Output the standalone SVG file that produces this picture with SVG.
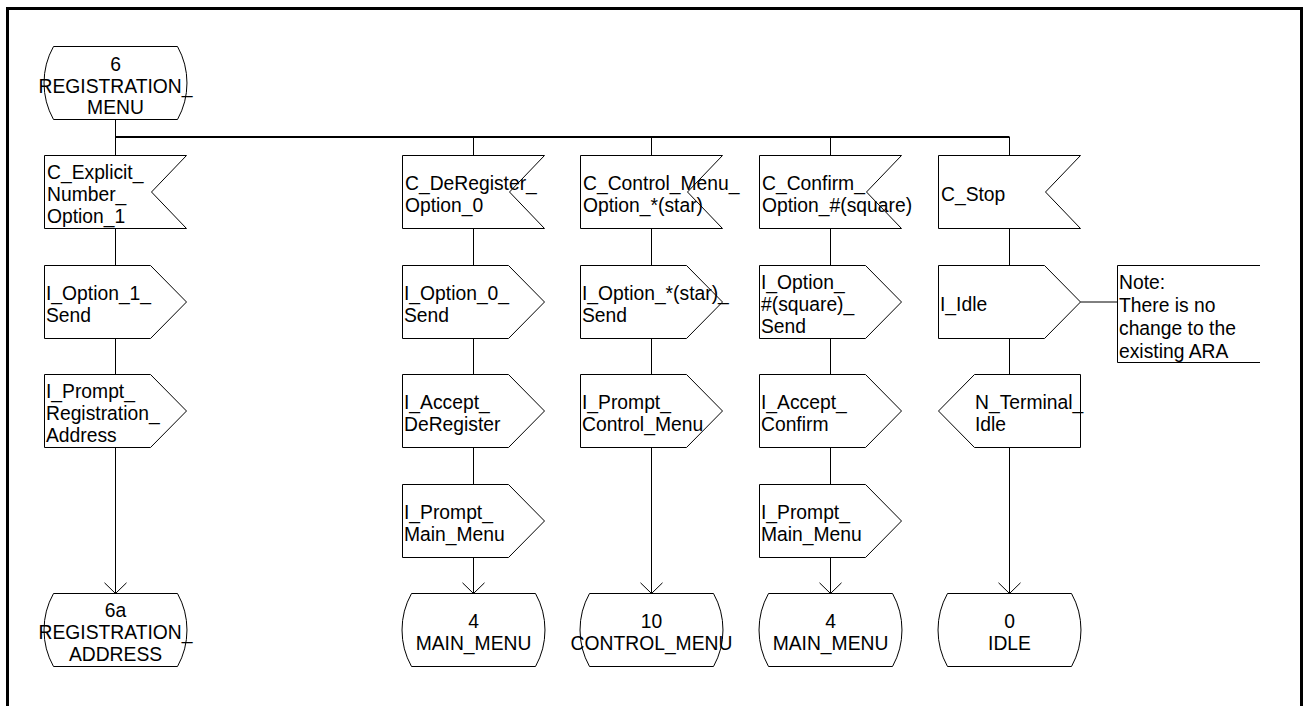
<svg xmlns="http://www.w3.org/2000/svg" width="1305" height="706" viewBox="0 0 1305 706">
  <style>
    .frame { fill: none; stroke: #000; stroke-width: 3; }
    .shape { fill: #fff; stroke: #000; stroke-width: 1; }
    .line { fill: none; stroke: #000; stroke-width: 1; }
    .bus { fill: none; stroke: #000; stroke-width: 2; }
    .arrow { marker-end: url(#openArrow); }
    text { font-family: "Liberation Sans", Arial, sans-serif; font-size: 19.3px; fill: #000; }
    .mid { text-anchor: middle; }
  </style>
  <defs>
    <marker id="openArrow" markerUnits="userSpaceOnUse" markerWidth="30" markerHeight="30" viewBox="-15 -15 30 30" refX="0" refY="0" orient="auto" overflow="visible">
      <path d="M-10.7,-11 L0,0 L-10.7,11" fill="none" stroke="#000" stroke-width="1"/>
    </marker>
  </defs>

  <rect class="frame" x="7.5" y="8.5" width="1294" height="720"/>

  <!-- flow lines -->
  <g id="connectors">
    <path class="bus" d="M115.5,137 H1009.5"/>
    <path class="line arrow" d="M115.5,119.5 V593.5"/>
    <path class="line arrow" d="M473.5,137 V593.5"/>
    <path class="line arrow" d="M651.5,137 V593.5"/>
    <path class="line arrow" d="M830.5,137 V593.5"/>
    <path class="line arrow" d="M1009.5,137 V593.5"/>
    <path class="line" d="M1080.5,302 H1117.5"/>
  </g>

  <!-- start state -->
  <g id="state-registration-menu">
    <path class="shape" d="M53.5,46.5 H177.5 A75,75 0 0 1 177.5,119.5 H53.5 A75,75 0 0 1 53.5,46.5 Z"/>
    <text class="mid" x="115.5"><tspan x="115.5" y="70.5">6</tspan><tspan x="115.5" y="92.5">REGISTRATION_</tspan><tspan x="115.5" y="114">MENU</tspan></text>
  </g>

  <!-- column 1 -->
  <g id="in-explicit-number">
    <path class="shape" d="M44.5,155.5 H186.5 L151.5,192 L186.5,228.5 H44.5 Z"/>
    <text><tspan x="47" y="178.5">C_Explicit_</tspan><tspan x="47" y="200.5">Number_</tspan><tspan x="47" y="222.5">Option_1</tspan></text>
  </g>
  <g id="out-option-1-send">
    <path class="shape" d="M44.5,265.5 H150.5 L186.5,302 L150.5,338.5 H44.5 Z"/>
    <text><tspan x="46" y="299.5">I_Option_1_</tspan><tspan x="46" y="321.5">Send</tspan></text>
  </g>
  <g id="out-prompt-registration-address">
    <path class="shape" d="M44.5,374.5 H150.5 L186.5,411 L150.5,447.5 H44.5 Z"/>
    <text><tspan x="46" y="397.5">I_Prompt_</tspan><tspan x="46" y="419.5">Registration_</tspan><tspan x="46" y="441.5">Address</tspan></text>
  </g>
  <g id="state-registration-address">
    <path class="shape" d="M53.5,593.5 H177.5 A75,75 0 0 1 177.5,666.5 H53.5 A75,75 0 0 1 53.5,593.5 Z"/>
    <text class="mid" x="115.5"><tspan x="115.5" y="616.5">6a</tspan><tspan x="115.5" y="638.5">REGISTRATION_</tspan><tspan x="115.5" y="660.5">ADDRESS</tspan></text>
  </g>

  <!-- column 2 -->
  <g id="in-deregister">
    <path class="shape" d="M402.5,155.5 H544.5 L509.5,192 L544.5,228.5 H402.5 Z"/>
    <text><tspan x="405" y="189.5">C_DeRegister_</tspan><tspan x="405" y="211.5">Option_0</tspan></text>
  </g>
  <g id="out-option-0-send">
    <path class="shape" d="M402.5,265.5 H508.5 L544.5,302 L508.5,338.5 H402.5 Z"/>
    <text><tspan x="404" y="299.5">I_Option_0_</tspan><tspan x="404" y="321.5">Send</tspan></text>
  </g>
  <g id="out-accept-deregister">
    <path class="shape" d="M402.5,374.5 H508.5 L544.5,411 L508.5,447.5 H402.5 Z"/>
    <text><tspan x="404" y="408.5">I_Accept_</tspan><tspan x="404" y="430.5">DeRegister</tspan></text>
  </g>
  <g id="out-prompt-main-menu-a">
    <path class="shape" d="M402.5,484.5 H508.5 L544.5,521 L508.5,557.5 H402.5 Z"/>
    <text><tspan x="404" y="518.5">I_Prompt_</tspan><tspan x="404" y="540.5">Main_Menu</tspan></text>
  </g>
  <g id="state-main-menu-a">
    <path class="shape" d="M411.5,593.5 H535.5 A75,75 0 0 1 535.5,666.5 H411.5 A75,75 0 0 1 411.5,593.5 Z"/>
    <text class="mid"><tspan x="473.5" y="627.5">4</tspan><tspan x="473.5" y="649.5">MAIN_MENU</tspan></text>
  </g>

  <!-- column 3 -->
  <g id="in-control-menu">
    <path class="shape" d="M580.5,155.5 H722.5 L687.5,192 L722.5,228.5 H580.5 Z"/>
    <text><tspan x="583" y="189.5">C_Control_Menu_</tspan><tspan x="583" y="211.5">Option_*(star)</tspan></text>
  </g>
  <g id="out-option-star-send">
    <path class="shape" d="M580.5,265.5 H686.5 L722.5,302 L686.5,338.5 H580.5 Z"/>
    <text><tspan x="582" y="299.5">I_Option_*(star)_</tspan><tspan x="582" y="321.5">Send</tspan></text>
  </g>
  <g id="out-prompt-control-menu">
    <path class="shape" d="M580.5,374.5 H686.5 L722.5,411 L686.5,447.5 H580.5 Z"/>
    <text><tspan x="582" y="408.5">I_Prompt_</tspan><tspan x="582" y="430.5">Control_Menu</tspan></text>
  </g>
  <g id="state-control-menu">
    <path class="shape" d="M589.5,593.5 H713.5 A75,75 0 0 1 713.5,666.5 H589.5 A75,75 0 0 1 589.5,593.5 Z"/>
    <text class="mid"><tspan x="651.5" y="627.5">10</tspan><tspan x="651.5" y="649.5">CONTROL_MENU</tspan></text>
  </g>

  <!-- column 4 -->
  <g id="in-confirm">
    <path class="shape" d="M759.5,155.5 H901.5 L866.5,192 L901.5,228.5 H759.5 Z"/>
    <text><tspan x="762" y="189.5">C_Confirm_</tspan><tspan x="762" y="211.5">Option_#(square)</tspan></text>
  </g>
  <g id="out-option-square-send">
    <path class="shape" d="M759.5,265.5 H865.5 L901.5,302 L865.5,338.5 H759.5 Z"/>
    <text><tspan x="761" y="288.5">I_Option_</tspan><tspan x="761" y="310.5">#(square)_</tspan><tspan x="761" y="332.5">Send</tspan></text>
  </g>
  <g id="out-accept-confirm">
    <path class="shape" d="M759.5,374.5 H865.5 L901.5,411 L865.5,447.5 H759.5 Z"/>
    <text><tspan x="761" y="408.5">I_Accept_</tspan><tspan x="761" y="430.5">Confirm</tspan></text>
  </g>
  <g id="out-prompt-main-menu-b">
    <path class="shape" d="M759.5,484.5 H865.5 L901.5,521 L865.5,557.5 H759.5 Z"/>
    <text><tspan x="761" y="518.5">I_Prompt_</tspan><tspan x="761" y="540.5">Main_Menu</tspan></text>
  </g>
  <g id="state-main-menu-b">
    <path class="shape" d="M768.5,593.5 H892.5 A75,75 0 0 1 892.5,666.5 H768.5 A75,75 0 0 1 768.5,593.5 Z"/>
    <text class="mid"><tspan x="830.5" y="627.5">4</tspan><tspan x="830.5" y="649.5">MAIN_MENU</tspan></text>
  </g>

  <!-- column 5 -->
  <g id="in-stop">
    <path class="shape" d="M938.5,155.5 H1080.5 L1045.5,192 L1080.5,228.5 H938.5 Z"/>
    <text><tspan x="941" y="200.5">C_Stop</tspan></text>
  </g>
  <g id="out-idle">
    <path class="shape" d="M938.5,265.5 H1044.5 L1080.5,302 L1044.5,338.5 H938.5 Z"/>
    <text><tspan x="940" y="310.5">I_Idle</tspan></text>
  </g>
  <g id="note-ara">
    <path class="line" d="M1260,265.5 H1117.5 V362.5 H1260"/>
    <text><tspan x="1119" y="288.5">Note:</tspan><tspan x="1119" y="311.5">There is no</tspan><tspan x="1119" y="334.5">change to the</tspan><tspan x="1119" y="357.5">existing ARA</tspan></text>
  </g>
  <g id="in-terminal-idle">
    <path class="shape" d="M974.5,374.5 H1080.5 V447.5 H974.5 L938.5,411 Z"/>
    <text><tspan x="975" y="408.5">N_Terminal_</tspan><tspan x="975" y="430.5">Idle</tspan></text>
  </g>
  <g id="state-idle">
    <path class="shape" d="M947.5,593.5 H1071.5 A75,75 0 0 1 1071.5,666.5 H947.5 A75,75 0 0 1 947.5,593.5 Z"/>
    <text class="mid"><tspan x="1009.5" y="627.5">0</tspan><tspan x="1009.5" y="649.5">IDLE</tspan></text>
  </g>
</svg>
